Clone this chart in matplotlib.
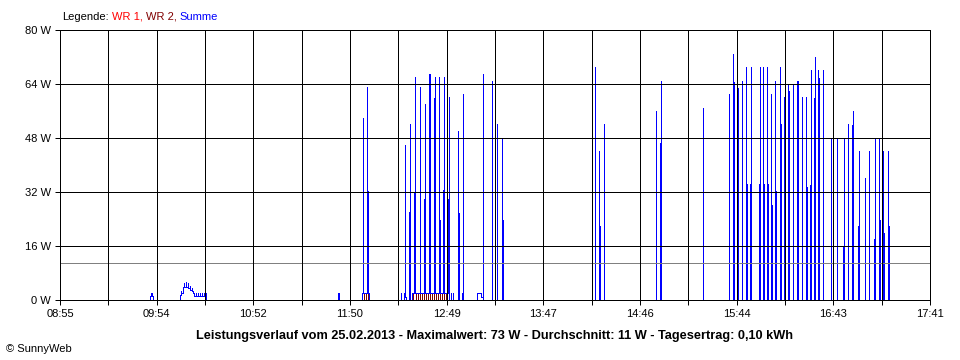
import matplotlib
matplotlib.use("Agg")
import matplotlib.pyplot as plt
import numpy as np

plt.rcParams['font.family'] = ['Liberation Sans', 'DejaVu Sans']

# ---------------- data ----------------
day_start = 8 * 60 + 55          # 08:55 in minutes since midnight
day_end = 17 * 60 + 41           # 17:41
x_tick_labels = ["08:55", "09:54", "10:52", "11:50", "12:49",
                 "13:47", "14:46", "15:44", "16:43", "17:41"]
y_tick_values = [0, 16, 32, 48, 64, 80]
y_tick_labels = ["0 W", "16 W", "32 W", "48 W", "64 W", "80 W"]
avg_watt = 11

legend_parts = ["Legende:", "WR 1,", "WR 2,", "Summe"]
title_text = ("Leistungsverlauf vom 25.02.2013 - Maximalwert: 73 W - "
              "Durchschnitt: 11 W - Tagesertrag: 0,10 kWh")
copyright_text = "\u00a9 SunnyWeb"

# Summe readings: (minutes since midnight, watts)
summe_morning = [
    (588.8, 0), (589.4, 1.1), (590.0, 2.1), (590.6, 2.1), (591.2, 1.1), (591.8, 0),
    (607.0, 0), (607.6, 1.6), (608.2, 2.6), (608.8, 2.0), (609.4, 4.0), (610.0, 5.0),
    (610.6, 4.0), (611.2, 5.3), (611.8, 4.0), (612.4, 5.0), (613.0, 3.6), (613.6, 4.2),
    (614.2, 3.0), (614.8, 3.6), (615.4, 2.6), (616.0, 2.0), (616.6, 1.1), (617.2, 2.0),
    (617.8, 1.1), (618.4, 2.0), (619.0, 1.1), (619.6, 2.0), (620.2, 1.1), (620.9, 2.0),
    (621.5, 1.1), (622.1, 2.0), (622.7, 1.1), (623.3, 2.0), (623.9, 0),
]
summe_midday = [
    (702.5, 0), (703.1, 2.0), (703.7, 2.0), (704.3, 0),
    (717.0, 0), (717.6, 2.0), (718.2, 53.8), (718.8, 2.0), (720.0, 2.0), (720.6, 63.1),
    (721.2, 32.2), (721.8, 2.0), (722.4, 0),
    (740.6, 0), (741.2, 2.0), (741.8, 0), (742.4, 0), (743.0, 2.0), (743.6, 45.9),
    (744.2, 1.0), (744.8, 0), (745.4, 0), (746.0, 26.1), (746.6, 52.1), (747.2, 0),
    (747.8, 2.0), (748.4, 2.0), (749.0, 31.8), (749.6, 66.2), (750.2, 2.0), (752.0, 2.0),
    (752.7, 63.1), (753.3, 2.0), (754.5, 2.0), (755.1, 30.0), (755.7, 58.2), (756.3, 2.0),
    (757.5, 2.0), (758.1, 67.0), (758.7, 67.0), (759.3, 2.0), (760.5, 2.0), (761.1, 59.9),
    (761.7, 66.2), (762.3, 2.0), (763.5, 2.0), (764.1, 66.2), (764.7, 23.7), (765.3, 2.0),
    (765.9, 2.0), (766.5, 32.6), (767.2, 66.2), (767.8, 2.0), (769.0, 2.0), (769.6, 30.0),
    (770.2, 60.2), (770.8, 0), (771.4, 2.0), (772.0, 0), (772.6, 2.0), (773.2, 0),
    (775.0, 0), (775.6, 50.2), (776.2, 25.7), (776.8, 0),
    (777.4, 0), (778.0, 2.0), (778.6, 61.1), (779.2, 0),
    (786.5, 0), (787.1, 2.0), (789.5, 2.0), (790.1, 0.8), (790.7, 67.0), (791.3, 0),
    (795.6, 0), (796.2, 64.9), (796.8, 0),
    (798.6, 0), (799.2, 52.1), (799.8, 0),
    (801.6, 0), (802.2, 47.7), (802.8, 23.7), (803.4, 0),
]
summe_afternoon = [
    (857.9, 0), (858.5, 69.0), (859.1, 0),
    (860.3, 0), (860.9, 44.2), (861.5, 22.0), (862.1, 0),
    (863.3, 0), (863.9, 52.1), (864.5, 0),
    (894.7, 0), (895.3, 56.1), (895.9, 0),
    (897.1, 0), (897.8, 46.6), (898.4, 64.9), (899.0, 0),
    (923.2, 0), (923.8, 56.9), (924.4, 0),
    (938.9, 0), (939.5, 61.1), (940.1, 0),
    (941.3, 0), (941.9, 72.9), (942.5, 64.6), (943.1, 0),
    (944.3, 0), (944.9, 62.8), (945.5, 0),
    (946.7, 0), (947.3, 64.9), (947.9, 0),
    (949.1, 0), (949.7, 69.0), (950.4, 34.4), (951.0, 0),
    (951.6, 0), (952.2, 34.4), (952.8, 69.0), (953.4, 0),
    (957.0, 0), (957.6, 34.4), (958.2, 69.0), (958.8, 0),
    (959.4, 0), (960.0, 69.0), (960.6, 34.4), (961.2, 0),
    (961.8, 0), (962.5, 69.0), (963.1, 34.4), (963.7, 0),
    (964.3, 0), (964.9, 61.0), (965.5, 28.1), (966.1, 0),
    (966.7, 0), (967.3, 64.9), (967.9, 32.3), (968.5, 0),
    (969.7, 0), (970.3, 69.0), (970.9, 52.1), (971.5, 0),
    (972.1, 0), (972.7, 60.2), (973.3, 0),
    (974.5, 0), (975.2, 63.8), (975.8, 61.9), (976.4, 0),
    (977.6, 0), (978.2, 63.8), (978.8, 0),
    (980.0, 0), (980.6, 64.9), (981.2, 64.9), (981.8, 0),
    (983.0, 0), (983.6, 60.2), (984.2, 0),
    (985.4, 0), (986.0, 60.2), (986.6, 33.5), (987.2, 0),
    (987.8, 0), (988.4, 34.1), (989.0, 68.2), (989.7, 0),
    (990.3, 0), (990.9, 59.9), (991.5, 72.0), (992.1, 0),
    (992.7, 0), (993.3, 68.2), (993.9, 65.8), (994.5, 0),
    (995.7, 0), (996.3, 68.2), (996.9, 0),
    (1000.5, 0), (1001.1, 47.9), (1001.7, 0),
    (1004.1, 0), (1004.8, 47.9), (1005.4, 0),
    (1007.8, 0), (1008.4, 15.9), (1009.0, 47.9), (1009.6, 0),
    (1010.8, 0), (1011.4, 52.1), (1012.0, 0),
    (1013.2, 0), (1013.8, 51.9), (1014.4, 56.0), (1015.0, 0),
    (1016.9, 0), (1017.5, 21.9), (1018.1, 44.2), (1018.7, 0),
    (1021.1, 0), (1021.7, 36.1), (1022.3, 0),
    (1023.5, 0), (1024.1, 44.2), (1024.7, 0),
    (1026.5, 0), (1027.1, 18.1), (1027.7, 47.9), (1028.3, 0),
    (1029.6, 0), (1030.2, 47.9), (1030.8, 23.7), (1031.4, 0),
    (1032.0, 0), (1032.6, 44.2), (1033.2, 19.9), (1033.8, 0),
    (1035.0, 0), (1035.6, 44.2), (1036.2, 21.9), (1036.8, 0),
]

# WR 2 readings (small contribution around noon)
wr2_readings = [
    (718.2, 0), (718.8, 2.0), (719.4, 0), (720.0, 2.0), (720.6, 0), (721.2, 2.0), (721.8, 0),
    (747.8, 0), (748.4, 2.0), (750.2, 2.0), (750.8, 0), (751.4, 2.0), (752.7, 2.0),
    (753.3, 0), (753.9, 2.0), (755.1, 2.0), (755.7, 0), (756.3, 2.0), (757.5, 2.0),
    (758.1, 0), (758.7, 2.0), (759.9, 2.0), (760.5, 0), (761.1, 2.0), (762.3, 2.0),
    (762.9, 0), (763.5, 2.0), (764.7, 2.0), (765.3, 0), (765.9, 2.0), (767.2, 2.0),
    (767.8, 0), (768.4, 2.0), (769.0, 2.0), (769.6, 0),
]

col_wr1 = "#ff0000"
col_wr2 = "#800000"
col_sum = "#0000ff"


def reading_outline(readings):
    """Each reading as a vertical stroke; consecutive strokes joined at the lower level."""
    xs, ys = [], []
    for i, (t, v) in enumerate(readings):
        xs.append(t)
        ys.append(v)
        if i + 1 < len(readings):
            tn, vn = readings[i + 1]
            low = min(v, vn)
            xs += [t, tn]
            ys += [low, low]
    return xs, ys


# ---------------- figure ----------------
W, H = 960, 360
fig = plt.figure(figsize=(W / 100, H / 100), dpi=100)
ax = fig.add_axes([60 / W, 60 / H, 870 / W, 270 / H])
px = 0.72  # 1 pixel in points

major_x = np.linspace(day_start, day_end, len(x_tick_labels))
minor_x = np.linspace(day_start, day_end, 2 * len(x_tick_labels) - 1)

ax.set_xlim(day_start, day_end)
ax.set_ylim(0, 80)
ax.set_xticks(major_x)
ax.set_xticklabels(x_tick_labels)
ax.set_xticks(minor_x, minor=True)
ax.set_yticks(y_tick_values)
ax.set_yticklabels(y_tick_labels)

# grid drawn above the data, as in the reference
for xv in minor_x:
    ax.axvline(xv, color="black", lw=px, antialiased=False, zorder=6, clip_on=False)
for yv in y_tick_values:
    ax.axhline(yv, color="black", lw=px, antialiased=False, zorder=6, clip_on=False)
ax.axhline(avg_watt, color="#808080", lw=px, antialiased=False, zorder=5)

for sp in ax.spines.values():
    sp.set_visible(False)

ax.tick_params(axis="both", which="both", direction="out", length=5 * px,
               width=px, color="black", labelsize=8, pad=3)

# series
xs, ys = reading_outline(wr2_readings)
ax.plot(xs, ys, color=col_wr2, lw=px, antialiased=False, zorder=3)
for seg in (summe_morning, summe_midday, summe_afternoon):
    xs, ys = reading_outline(seg)
    ax.plot(xs, ys, color=col_sum, lw=px, antialiased=False, zorder=4)

# texts
fig.canvas.draw()
renderer = fig.canvas.get_renderer()
xpos = 62
colors = ["black", col_wr1, col_wr2, col_sum]
for part, c in zip(legend_parts, colors):
    t = fig.text(xpos / W, 1 - 16.5 / H, part, color=c, fontsize=8,
                 ha="left", va="center")
    bb = t.get_window_extent(renderer=renderer)
    xpos = bb.x1 + 3

fig.text(495 / W, 1 - 336.5 / H, title_text, fontsize=9.2, fontweight="bold",
         ha="center", va="center")
fig.text(6 / W, 1 - 349 / H, copyright_text, fontsize=8, ha="left", va="center")

fig.savefig("out.png", dpi=100)
